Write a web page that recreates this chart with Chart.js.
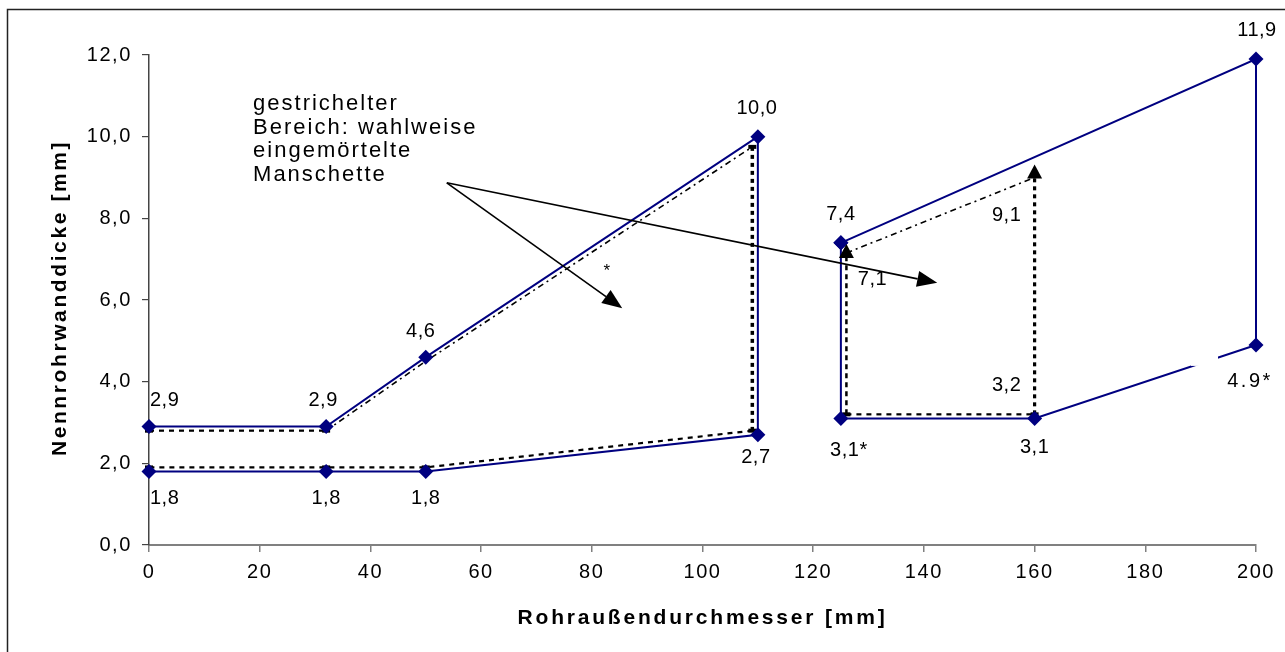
<!DOCTYPE html>
<html>
<head>
<meta charset="utf-8">
<script src="https://cdn.jsdelivr.net/npm/chart.js@4.4.1/dist/chart.umd.min.js"></script>
<style>
  html, body { margin: 0; background: #fff; }
  #wrap { width: 1285px; height: 652px; }
</style>
</head>
<body>
<div id="wrap"><canvas id="chart"></canvas></div>
<script>
/* ── Data: Rohr (blau) ── */
const pipeAX = [0, 32, 50, 110, 110, 50, 32, 0];
const pipeAY = [2.9, 2.9, 4.6, 10.0, 2.7, 1.8, 1.8, 1.8];
const pipeBX = [125, 200, 200, 160, 125, 125];
const pipeBY = [7.4, 11.9, 4.9, 3.1, 3.1, 7.4];

/* ── Data: Manschette (gestrichelt) ── */
const cuffTopAX    = [0, 32];
const cuffTopAY    = [2.8, 2.8];
const cuffSlopeAX  = [32, 50, 109];
const cuffSlopeAY  = [2.8, 4.5, 9.75];
const cuffVertAX   = [109, 109];
const cuffVertAY   = [9.75, 2.8];
const cuffLowAX    = [109, 50, 32, 0];
const cuffLowAY    = [2.8, 1.9, 1.9, 1.9];
const cuffSlopeBX  = [126, 160];
const cuffSlopeBY  = [7.15, 9.0];
const cuffLowBX    = [126, 160];
const cuffLowBY    = [3.2, 3.2];
const cuffLeftBX   = [126, 126];
const cuffLeftBY   = [3.2, 7.15];
const cuffRightBX  = [160, 160];
const cuffRightBY  = [3.2, 9.1];

/* ── Data labels ── */
const labelText = ['2,9', '1,8', '2,9', '1,8', '1,8', '4,6', '10,0', '2,7', '7,4', '3,1*', '3,1', '11,9', '4.9*', '7,1', '9,1', '3,2'];
const labelX    = [0, 0, 32, 32, 50, 50, 110, 110, 125, 125, 160, 200, 200, 126, 160, 160];
const labelY    = [2.9, 1.8, 2.9, 1.8, 1.8, 4.6, 10.0, 2.7, 7.4, 3.1, 3.1, 11.9, 4.9, 7.1, 9.1, 3.2];

/* ── Axis ticks ── */
const xMin = 0, xMax = 200, xStep = 20;
const yMin = 0, yMax = 12, yStep = 2;
const xTitle = 'Rohraußendurchmesser [mm]';
const yTitle = 'Nennrohrwanddicke [mm]';

/* ── Annotation ── */
const noteLines  = ['gestrichelter', 'Bereich: wahlweise', 'eingemörtelte', 'Manschette'];
const noteAt     = [18.8, 10.8];
const arrowFrom  = [53.8, 8.87];
const arrowTo    = [[85.5, 5.8], [142.4, 6.42]];
const starAt     = [82.7, 6.7];

const NAVY = '#000080';
const FONT = '"Liberation Sans", Arial, sans-serif';
const TICK_SPACING = '1.6px';

function pts(xs, ys) { return xs.map((x, i) => ({ x, y: ys[i] })); }

function pipe(xs, ys) {
  return {
    data: pts(xs, ys), showLine: true, borderColor: NAVY, borderWidth: 2, clip: false,
    pointStyle: 'rectRot', pointRadius: 7.5, pointBackgroundColor: NAVY, pointBorderColor: NAVY,
    pointBorderWidth: 0, order: 1,
  };
}

function cuff(xs, ys, dash, width, marks) {
  return {
    data: pts(xs, ys), showLine: true, borderColor: '#000', borderWidth: width, borderDash: dash,
    pointStyle: 'line', pointRadius: marks || 0, pointBorderColor: '#000', pointBorderWidth: 4,
    clip: false, order: 2,
  };
}

/* where each label sits relative to its point: [dx, dy, align] */
const offsets = [
  [1, -26, 'left'],   [1, 27, 'left'],
  [-3, -26, 'center'], [0, 27, 'center'], [0, 27, 'center'],
  [-5, -26, 'center'], [-1, -28, 'center'], [-2, 23, 'center'],
  [0, -28, 'center'], [8, 32, 'center'], [0, 29, 'center'],
  [1, -29, 'center'], [-6, 37, 'center'],
  [26, 24, 'center'], [-28, 42, 'center'], [-28, -29, 'center'],
];

/* ── Plugins ── */
const decor = {
  id: 'decor',
  beforeLayout(chart) { chart.ctx.letterSpacing = TICK_SPACING; },
  beforeDraw(chart) {
    const { ctx } = chart;
    ctx.letterSpacing = TICK_SPACING;
    ctx.save();
    ctx.strokeStyle = '#222';
    ctx.lineWidth = 1.5;
    ctx.strokeRect(7.5, 9.5, 1400, 800);
    ctx.restore();
  },
  afterDatasetsDraw(chart) {
    const { ctx, chartArea, scales: { x, y } } = chart;
    const px = p => [x.getPixelForValue(p[0]), y.getPixelForValue(p[1])];

    ctx.save();
    // arrowheads on dashed verticals (upwards)
    [[cuffLeftBX[1], cuffLeftBY[1]], [cuffRightBX[1], cuffRightBY[1]]].forEach(p => {
      const [tx, ty] = px(p);
      ctx.fillStyle = '#000';
      ctx.beginPath();
      ctx.moveTo(tx, ty - 9);
      ctx.lineTo(tx - 7.5, ty + 5);
      ctx.lineTo(tx + 7.5, ty + 5);
      ctx.closePath();
      ctx.fill();
    });

    // annotation arrows
    const [fx, fy] = px(arrowFrom);
    arrowTo.forEach(t => {
      const [tx, ty] = px(t);
      const ang = Math.atan2(ty - fy, tx - fx);
      const len = 20, half = 8;
      const bx = tx - len * Math.cos(ang), by = ty - len * Math.sin(ang);
      ctx.strokeStyle = '#000';
      ctx.lineWidth = 1.6;
      ctx.beginPath();
      ctx.moveTo(fx, fy);
      ctx.lineTo(bx, by);
      ctx.stroke();
      ctx.fillStyle = '#000';
      ctx.beginPath();
      ctx.moveTo(tx, ty);
      ctx.lineTo(bx + half * Math.sin(ang), by - half * Math.cos(ang));
      ctx.lineTo(bx - half * Math.sin(ang), by + half * Math.cos(ang));
      ctx.closePath();
      ctx.fill();
    });

    // data labels
    ctx.font = '20px ' + FONT;
    ctx.letterSpacing = '0.5px';
    ctx.textBaseline = 'middle';
    labelText.forEach((txt, i) => {
      const [lx, ly] = px([labelX[i], labelY[i]]);
      const [dx, dy, align] = offsets[i];
      if (txt === '4.9*') {
        ctx.fillStyle = '#fff';
        ctx.fillRect(lx - 65, ly + 7, 27, 14);
        ctx.letterSpacing = '2.5px';
      }
      ctx.fillStyle = '#000';
      ctx.textAlign = align;
      ctx.fillText(txt, lx + dx, ly + dy);
      ctx.letterSpacing = '0.5px';
    });

    // note text
    const [nx, ny] = px(noteAt);
    ctx.font = '22px ' + FONT;
    ctx.letterSpacing = '2px';
    ctx.textAlign = 'left';
    noteLines.forEach((line, i) => ctx.fillText(line, nx, ny + i * 23.5));

    const [sx, sy] = px(starAt);
    ctx.font = '17px ' + FONT;
    ctx.letterSpacing = '0px';
    ctx.textAlign = 'center';
    ctx.fillText('*', sx, sy);

    // axis titles
    ctx.font = 'bold 21px ' + FONT;
    ctx.letterSpacing = '2.8px';
    ctx.fillText(xTitle, (chartArea.left + chartArea.right) / 2, 618);
    ctx.letterSpacing = '2.6px';
    ctx.translate(60, (chartArea.top + chartArea.bottom) / 2 - 2);
    ctx.rotate(-Math.PI / 2);
    ctx.fillText(yTitle, 0, 0);
    ctx.restore();
    ctx.letterSpacing = TICK_SPACING;
  },
};

/* ── Chart ── */
new Chart(document.getElementById('chart'), {
  type: 'scatter',
  data: {
    datasets: [
      pipe(pipeAX, pipeAY),
      pipe(pipeBX, pipeBY),
      cuff(cuffTopAX, cuffTopAY, [5, 5], 2.2, 4),
      cuff(cuffSlopeAX, cuffSlopeAY, [6, 4, 2, 4], 1.6, 0),
      { ...cuff(cuffVertAX, cuffVertAY, [4, 4], 3.5, 0), pointRadius: [4, 0] },
      cuff(cuffLowAX, cuffLowAY, [5, 5], 2.2, 4),
      cuff(cuffSlopeBX, cuffSlopeBY, [6, 4, 2, 4], 1.6, 0),
      cuff(cuffLowBX, cuffLowBY, [5, 5], 2.2, 4),
      cuff(cuffLeftBX, cuffLeftBY, [5, 4], 2.5, 0),
      cuff(cuffRightBX, cuffRightBY, [4, 4], 3.2, 0),
    ],
  },
  options: {
    responsive: true,
    maintainAspectRatio: false,
    animation: false,
    layout: { padding: { top: 55, right: 29, left: 0, bottom: 0 } },
    plugins: { legend: { display: false }, tooltip: { enabled: false } },
    scales: {
      x: {
        type: 'linear', min: xMin, max: xMax,
        ticks: { stepSize: xStep, color: '#000', font: { family: FONT, size: 20 }, padding: 8, maxRotation: 0 },
        grid: { drawOnChartArea: false, tickLength: 7, color: '#808080', lineWidth: 1.5 },
        border: { color: '#808080', width: 2 },
        afterFit: s => { s.height = 107; },
      },
      y: {
        type: 'linear', min: yMin, max: yMax,
        ticks: { stepSize: yStep, color: '#000', font: { family: FONT, size: 20 }, padding: 10,
                 callback: v => v.toFixed(1).replace('.', ',') },
        grid: { drawOnChartArea: false, tickLength: 7, color: '#444', lineWidth: 1.2 },
        border: { color: '#444', width: 1.5 },
        afterFit: s => { s.width = 149; },
      },
    },
  },
  plugins: [decor],
});
</script>
</body>
</html>
